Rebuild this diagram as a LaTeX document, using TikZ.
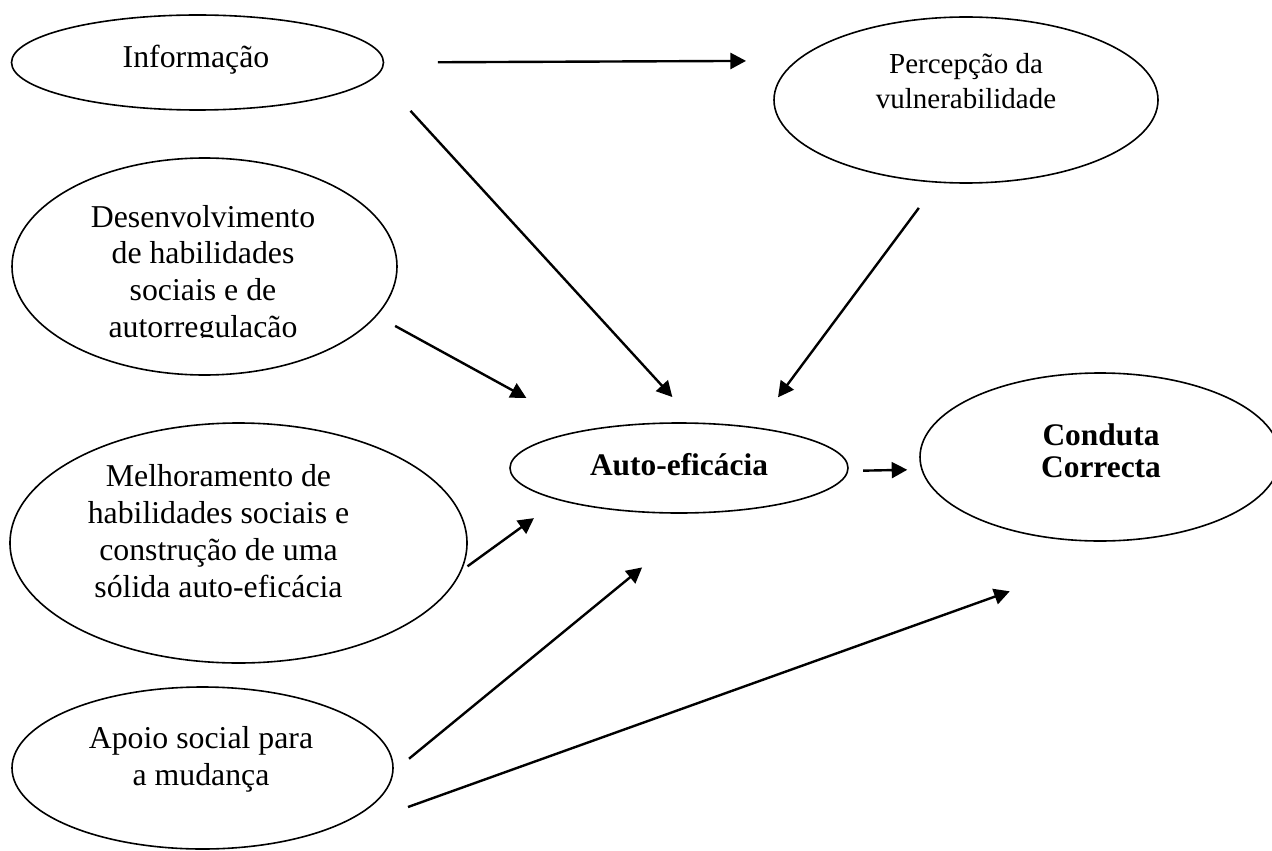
\documentclass[tikz,border=0pt]{standalone}
\usepackage{fontspec}
\setmainfont{Liberation Serif}
\usetikzlibrary{shapes.geometric,arrows.meta}

\tikzset{
  oval/.style={draw, ellipse, line width=0.8pt, inner sep=0pt},
  lbl/.style={align=center, inner sep=0pt, anchor=base,
    font=\fontsize{15.9}{18.4}\selectfont},
  lblsmall/.style={lbl, font=\fontsize{14.5}{17.5}\selectfont},
  lblbold/.style={lbl, font=\fontsize{15.7}{16}\selectfont\bfseries},
  arr/.style={-{Triangle[length=7.8pt,width=8pt]}, line width=1.2pt},
}

\begin{document}
\begin{tikzpicture}[x=0.5pt, y=-0.5pt]
    \useasboundingbox (0,0) rectangle (1272,850);

    % ovals
    \node[oval, minimum width=186pt, minimum height=47.5pt] (info) at (197.5,62.5) {};
    \node[oval, minimum width=192pt, minimum height=83pt] (perc) at (966,100) {};
    \node[oval, minimum width=192.5pt, minimum height=108.5pt] (desv) at (204.5,266.5) {};
    \node[oval, minimum width=228.5pt, minimum height=120pt] (melh) at (238.5,543) {};
    \node[oval, minimum width=190.5pt, minimum height=81pt] (apoio) at (202.5,768) {};
    \node[oval, minimum width=169pt, minimum height=45pt] (auto) at (679,468) {};
    \node[oval, minimum width=180pt, minimum height=84pt] (cond) at (1100,457) {};

    % texts (base = last line)
    \node[lbl] (infoTxt) at (196,68) {Informação};
    \node[lblsmall] (percTxt) at (966,109) {Percepção da\\vulnerabilidade};
    \begin{scope}
        \clip (0,0) rectangle (1272,337);
        \node[lbl] (desvTxt) at (203,337.5) {Desenvolvimento\\de habilidades\\sociais e de\\autorregulação};
    \end{scope}
    \node[lbl] (melhTxt) at (218.5,597) {Melhoramento de\\habilidades sociais e\\construção de uma\\sólida auto-eficácia};
    \node[lbl] (apoioTxt) at (201,785) {Apoio social para\\a mudança};
    \node[lblbold] (autoTxt) at (679,475) {Auto-eficácia};
    \node[lblbold] (condTxt) at (1101,477) {Conduta\\Correcta};

    % arrows
    \coordinate (apoioOut) at (408,807);
    \draw[arr, shorten <=26.75pt, shorten >=24.85pt] (info.east) -- (perc.167.65);
    \draw[arr, shorten <=24.2pt, shorten >=17.2pt] (info.-4.5) -- (auto.70);
    \draw[arr, shorten <=15.6pt, shorten >=18.6pt] (perc.251.6) -- (auto.28.4);
    \draw[arr, shorten <=10.4pt, shorten >=33.3pt] (desv.-16.55) -- (auto.158.8);
    \draw[arr, shorten <=3.5pt, shorten >=15.2pt] (melh.-7.45) -- (auto.195.7);
    \draw[arr, shorten <=9.95pt, shorten >=42.8pt] (apoio.-1.42) -- (auto.-57.86);
    \draw[arr, shorten >=81pt] (apoioOut) -- (cond.-52.64);
    \draw[arr, shorten <=7.35pt, shorten >=6.95pt] (auto.-1.36) -- (cond.184.84);

\end{tikzpicture}
\end{document}
